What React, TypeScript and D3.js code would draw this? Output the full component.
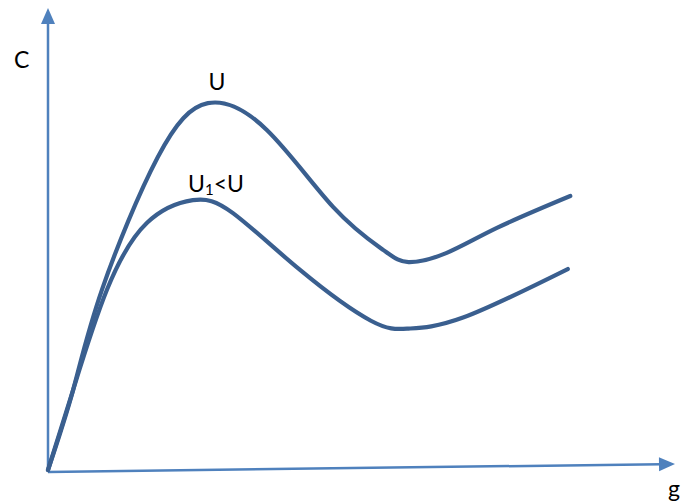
import React from "react";
import * as d3 from "d3";

// values in chart units (g: 0..100 along x axis, C: 0..100 along y axis)
const upperG = [0, 4.0, 8.6, 17.5, 25.5, 34.9, 45.5, 53.5, 57.5, 63.6, 71.6, 83.3];
const upperC = [0, 17.3, 39.0, 67.7, 79.4, 73.6, 56.9, 47.6, 45.0, 47.0, 52.4, 59.3];
const lowerG = [0, 4.0, 9.4, 15.8, 23.1, 29.5, 40.2, 51.5, 57.5, 66.2, 82.9];
const lowerC = [0, 17.3, 39.0, 53.5, 58.4, 55.6, 43.3, 32.3, 30.6, 33.0, 43.5];

const W = 690;
const H = 502;
const AXIS = "#4f81bd";
const LINE = "#3a5f8f";
const FONT = "Lato, 'Open Sans', sans-serif";

export default function App() {
  const x = d3.scaleLinear().domain([0, 100]).range([48, 675]);
  const y = d3.scaleLinear().domain([0, 100]).range([470, 8]);
  const line = d3
    .line<[number, number]>()
    .x((d) => x(d[0]))
    .y((d) => y(d[1]))
    .curve(d3.curveNatural);
  const up: [number, number][] = upperG.map((g, i) => [g, upperC[i]]);
  const lo: [number, number][] = lowerG.map((g, i) => [g, lowerC[i]]);

  const ax0 = x(0);
  const ay0 = 472;
  const yTip = 8;
  const xTipX = 675;
  const xTipY = 464;
  const dx = xTipX - ax0;
  const dy = xTipY - ay0;
  const len = Math.sqrt(dx * dx + dy * dy);
  const ux = dx / len;
  const uy = dy / len;
  const ah = 16;
  const aw = 7;
  const bx = xTipX - ux * ah;
  const by = xTipY - uy * ah;

  return (
    <svg width={W} height={H} style={{ position: "absolute", left: 0, top: 0 }}>
      <rect width={W} height={H} fill="#fff" />
      <line x1={ax0} y1={ay0} x2={ax0} y2={yTip + 14} stroke={AXIS} strokeWidth={2.5} />
      <polygon points={`${ax0},${yTip} ${ax0 - 7},${yTip + 16} ${ax0 + 7},${yTip + 16}`} fill={AXIS} />
      <line x1={ax0} y1={ay0} x2={bx + ux * 2} y2={by + uy * 2} stroke={AXIS} strokeWidth={2.5} />
      <polygon
        points={`${xTipX},${xTipY} ${bx - uy * aw},${by + ux * aw} ${bx + uy * aw},${by - ux * aw}`}
        fill={AXIS}
      />
      <path d={line(up) || ""} fill="none" stroke={LINE} strokeWidth={4.2} strokeLinecap="round" strokeLinejoin="round" />
      <path d={line(lo) || ""} fill="none" stroke={LINE} strokeWidth={4.2} strokeLinecap="round" strokeLinejoin="round" />
      <text x={14} y={68} fontFamily={FONT} fontSize={23} fill="#000">C</text>
      <text x={217} y={90} fontFamily={FONT} fontSize={23} fill="#000" textAnchor="middle">U</text>
      <text x={188} y={192} fontFamily={FONT} fontSize={23} fill="#000">
        U<tspan fontSize={15} dy={3}>1</tspan><tspan dy={-3}>&lt;U</tspan>
      </text>
      <text x={668} y={497} fontFamily={FONT} fontSize={23} fill="#000">g</text>
    </svg>
  );
}
